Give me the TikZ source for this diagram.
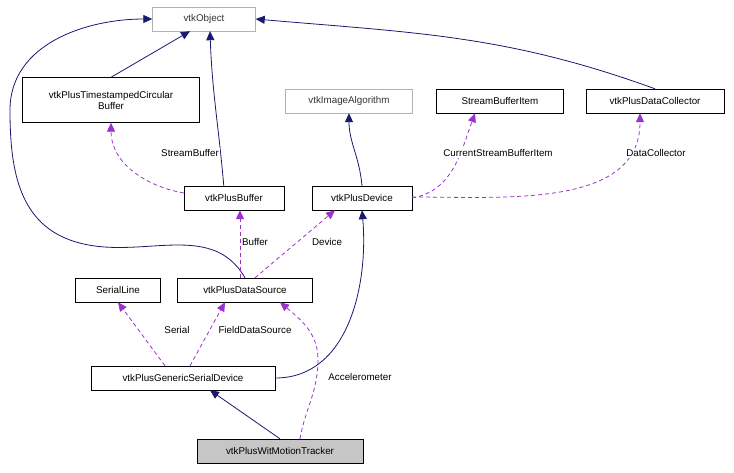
\documentclass[tikz,border=0pt]{standalone}
\usepackage{fontspec}
\setmainfont{Liberation Sans}
\usetikzlibrary{arrows.meta}
\definecolor{navy}{RGB}{25,25,112}
\definecolor{dpurple}{RGB}{154,50,205}
\tikzset{
  cls/.style={draw=black, fill=white, font=\fontsize{9.8}{11}\selectfont, minimum height=24pt, inner sep=3pt, align=center},
  ghost/.style={cls, draw=gray!60, text=black!80},
  inh/.style={draw=navy, line width=0.8pt, -{Triangle[open, fill=navy, length=9pt, width=8pt]}},
  use/.style={draw=dpurple, dashed, dash pattern=on 4pt off 3pt, line width=0.8pt, -{Triangle[fill=dpurple, length=9pt, width=8pt]}},
  lbl/.style={font=\fontsize{9.8}{11}\selectfont, fill=white, inner sep=1pt}
}
\begin{document}
\begin{tikzpicture}[x=1pt, y=-1pt]
    \useasboundingbox (0,0) rectangle (734,472);
		\node[ghost, minimum width=103pt] (obj) at (204, 19) {vtkObject};
		\node[cls, minimum width=177pt, minimum height=45pt] (tcb) at (111, 100) {vtkPlusTimestampedCircular\\Buffer};
		\node[ghost, minimum width=127pt] (ia) at (349, 101) {vtkImageAlgorithm};
		\node[cls, minimum width=127pt] (sbi) at (500, 101) {StreamBufferItem};
		\node[cls, minimum width=138pt] (dc) at (655, 101) {vtkPlusDataCollector};
		\node[cls, minimum width=100pt] (buf) at (234, 198) {vtkPlusBuffer};
		\node[cls, minimum width=100pt] (dev) at (362, 198) {vtkPlusDevice};
		\node[cls, minimum width=85pt] (sl) at (118, 290) {SerialLine};
		\node[cls, minimum width=135pt] (ds) at (245, 290) {vtkPlusDataSource};
		\node[cls, minimum width=184pt] (gsd) at (183, 378) {vtkPlusGenericSerialDevice};
		\node[cls, fill=gray!45, minimum width=166pt] (wmt) at (280, 451) {vtkPlusWitMotionTracker};
		% inheritance
		\draw[inh] (tcb.north) -- (obj.south -| 190,0);
		\draw[inh] (buf.north west) ++(40,0) to[out=95, in=-88] (obj.south -| 210,0);
		\draw[inh] (ds.north) to[out=120, in=-20] (70,240) to[out=160, in=-90] (10,110) to[out=90, in=180] (obj.west);
		\draw[inh] (dc.north) to[out=160, in=-5] (obj.east);
		\draw[inh] (dev.north) to[out=95, in=-90] (ia.south);
		\draw[inh] (gsd.east) to[out=0, in=-85] (dev.south);
		\draw[inh] (wmt.north) -- (gsd.south -| 210,0);
		% usage
		\draw[use] (buf.west) ++(0,-5) to[out=170, in=-90] (tcb.south);
		\draw[use] (dev.east) to[out=10, in=-110] (sbi.south -| 475,0);
		\draw[use] (dev.east) ++(0,-1) to[out=0, in=-90] (dc.south -| 640,0);
		\draw[use] (ds.north -| 240,0) -- (buf.south -| 240,0);
		\draw[use] (ds.north -| 255,0) -- (dev.south -| 335,0);
		\draw[use] (gsd.north -| 165,0) -- (sl.south);
		\draw[use] (gsd.north -| 190,0) -- (ds.south -| 225,0);
		\draw[use] (wmt.north -| 300,0) to[out=80, in=-90] (318,360) to[out=90, in=-40] (ds.south -| 280,0);
		% labels
		\node[lbl] (lsb) at (190, 153) {StreamBuffer};
		\node[lbl] (lcsb) at (498, 153) {CurrentStreamBufferItem};
		\node[lbl] (ldc) at (656, 153) {DataCollector};
		\node[lbl] (lbuf) at (255, 242) {Buffer};
		\node[lbl] (ldev) at (327, 242) {Device};
		\node[lbl] (lser) at (177, 330) {Serial};
		\node[lbl] (lfds) at (255, 330) {FieldDataSource};
		\node[lbl] (lacc) at (360, 377) {Accelerometer};
\end{tikzpicture}
\end{document}
